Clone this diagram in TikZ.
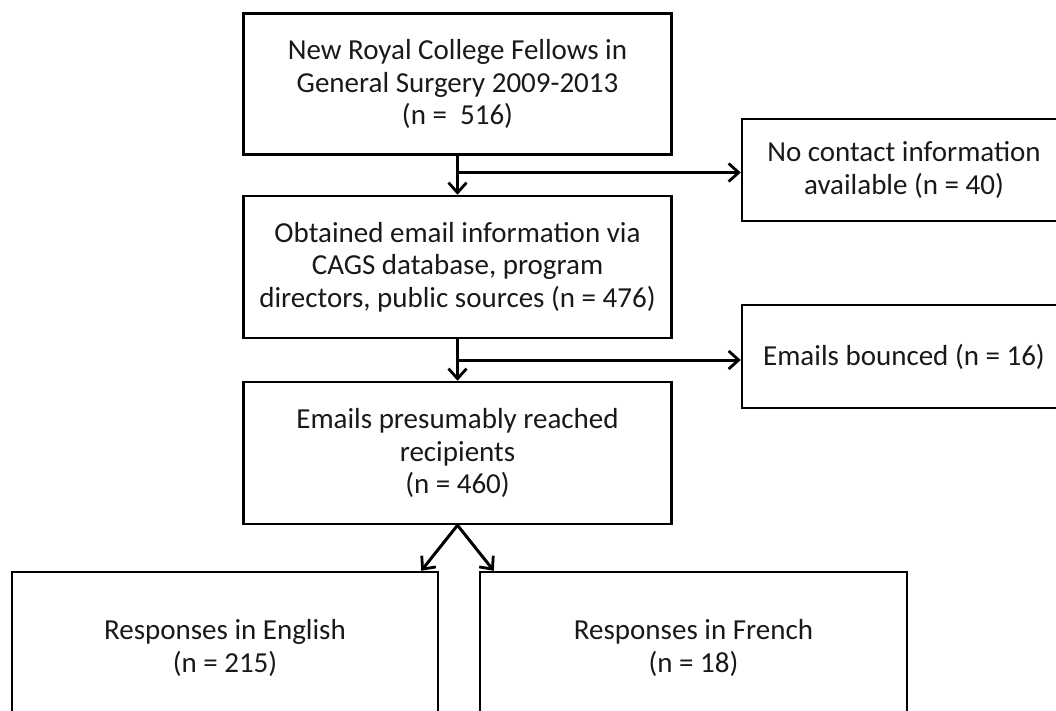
\documentclass[tikz,border=0pt]{standalone}
\usepackage{fontspec}
\setmainfont{Carlito}
\usetikzlibrary{arrows.meta,calc}
\begin{document}
\begin{tikzpicture}[x=1pt,y=-1pt,
  box/.style={draw=black,line width=2.5pt,align=center,inner sep=0pt,
    font=\fontsize{29}{32.5}\selectfont,text=black!90},
  conn/.style={line width=3pt,-{Straight Barb[length=10pt,width=18pt,line width=2.8pt]}}]
\useasboundingbox (0,0) rectangle (1056,711);
\clip (0,0) rectangle (1056,711);
\node[box,minimum width=428pt,minimum height=141pt] (b1) at (457.5,84)
  {New Royal College Fellows in\\General Surgery 2009-2013\\(n =\ \ 516)};
\node[box,minimum width=428pt,minimum height=142pt] (b2) at (457.5,267)
  {Obtained email information via\\CAGS database, program\\directors, public sources (n = 476)};
\node[box,minimum width=428pt,minimum height=142pt] (b3) at (457.5,453)
  {Emails presumably reached\\recipients\\(n = 460)};
\node[box,minimum width=324pt,minimum height=102pt] (rb1) at (904,170)
  {No contact information\\available (n = 40)};
\node[box,minimum width=324pt,minimum height=103pt] (rb2) at (904,356.5)
  {Emails bounced (n = 16)};
\node[box,minimum width=426pt,minimum height=152pt] (en) at (225,648)
  {Responses in English\\(n = 215)};
\node[box,minimum width=427pt,minimum height=152pt] (fr) at (693.5,648)
  {Responses in French\\(n = 18)};
\coordinate (j1) at ($(b1.south)!0.43!(b2.north)$);
\coordinate (j2) at ($(b2.south)!0.5!(b3.north)$);
\draw[conn] (b1.south) -- (b2.north);
\draw[conn] (j1) -- (j1 -| rb1.west);
\draw[conn] (b2.south) -- (b3.north);
\draw[conn] (j2) -- (j2 -| rb2.west);
\draw[conn] (b3.south) -- ([xshift=-18pt]en.north east);
\draw[conn] (b3.south) -- ([xshift=15pt]fr.north west);
\end{tikzpicture}
\end{document}
